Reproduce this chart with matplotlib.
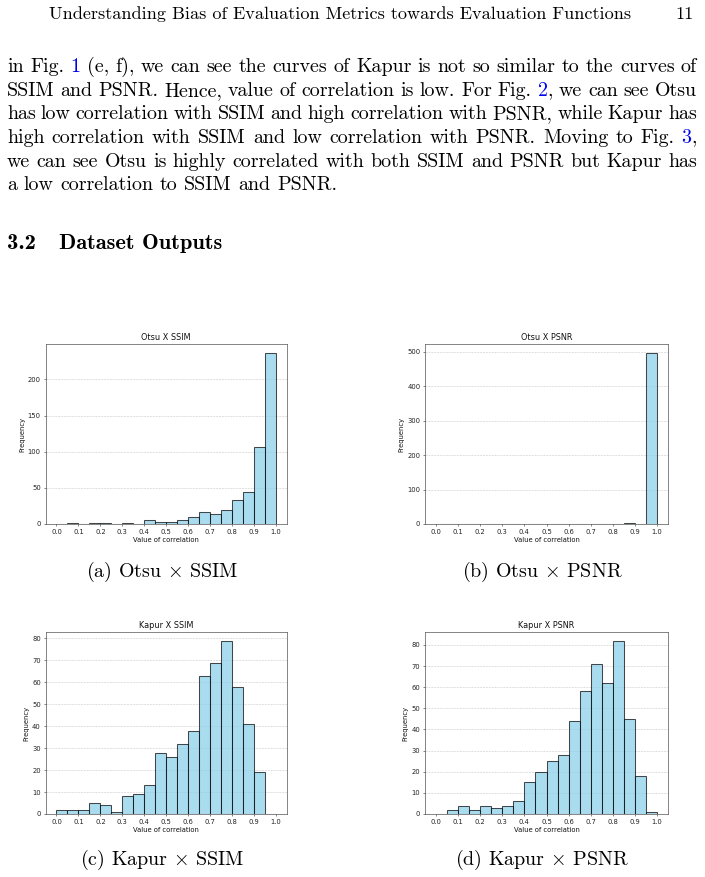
import numpy as np
import matplotlib
matplotlib.use("Agg")
import matplotlib.pyplot as plt
from matplotlib.ticker import MultipleLocator

# ---------------- data ----------------
bin_edges = np.round(np.arange(0, 1.0001, 0.05), 2)
xtick_vals = np.round(np.arange(0, 1.0001, 0.1), 1)

otsu_ssim = [0, 1, 0, 1, 1, 0, 1, 0, 5, 3, 3, 5, 9, 16, 14, 20, 33, 44, 107, 237]
otsu_psnr = [0, 0, 0, 0, 0, 0, 0, 0, 0, 0, 0, 0, 0, 0, 0, 0, 0, 2, 0, 498]
kapur_ssim = [2, 2, 2, 5, 4, 1, 8, 9, 13, 28, 26, 32, 38, 63, 69, 79, 58, 41, 19, 0]
kapur_psnr = [0, 2, 4, 2, 4, 3, 4, 6, 15, 20, 25, 28, 44, 58, 71, 62, 82, 45, 18, 1]

titles = ["Otsu X SSIM", "Otsu X PSNR", "Kapur X SSIM", "Kapur X PSNR"]
captions = [r"(a) Otsu $\times$ SSIM", r"(b) Otsu $\times$ PSNR",
            r"(c) Kapur $\times$ SSIM", r"(d) Kapur $\times$ PSNR"]
ytick_steps = [50, 100, 10, 10]

header = "Understanding Bias of Evaluation Metrics towards Evaluation Functions"
page_no = "11"
BLUE = "#0000ee"
body_lines = [
    [["in"], ["Fig."], [("1", BLUE)], ["(e,"], ["f),"], ["we"], ["can"], ["see"], ["the"], ["curves"], ["of"],
     ["Kapur"], ["is"], ["not"], ["so"], ["similar"], ["to"], ["the"], ["curves"], ["of"]],
    [["SSIM"], ["and"], ["PSNR."], ["Hence,"], ["value"], ["of"], ["correlation"], ["is"], ["low."], ["For"],
     ["Fig."], [("2", BLUE), ","], ["we"], ["can"], ["see"], ["Otsu"]],
    [["has"], ["low"], ["correlation"], ["with"], ["SSIM"], ["and"], ["high"], ["correlation"], ["with"],
     ["PSNR,"], ["while"], ["Kapur"], ["has"]],
    [["high"], ["correlation"], ["with"], ["SSIM"], ["and"], ["low"], ["correlation"], ["with"], ["PSNR."],
     ["Moving"], ["to"], ["Fig."], [("3", BLUE), ","]],
    [["we"], ["can"], ["see"], ["Otsu"], ["is"], ["highly"], ["correlated"], ["with"], ["both"], ["SSIM"],
     ["and"], ["PSNR"], ["but"], ["Kapur"], ["has"]],
    [["a"], ["low"], ["correlation"], ["to"], ["SSIM"], ["and"], ["PSNR."]],
]
section_num = "3.2"
section_title = "Dataset Outputs"

# ---------------- figure ----------------
W, H = 705, 877
fig = plt.figure(figsize=(W / 100, H / 100), dpi=100)
fig.patch.set_facecolor("white")
renderer = fig.canvas.get_renderer()

SERIF = "cmr10"
BODY_SIZE = 14.4


def fx(x):
    return x / W


def fy(y):
    return 1 - y / H


def put(x, y, s, **kw):
    kw.setdefault("fontfamily", SERIF)
    kw.setdefault("fontsize", BODY_SIZE)
    kw.setdefault("va", "baseline")
    return fig.text(fx(x), fy(y), s, **kw)


def width_of(t):
    return t.get_window_extent(renderer).width


def draw_line(words, y, x0=7, x1=697, justify=True):
    placed = []
    total = 0
    for tok in words:
        pieces = []
        for p in tok:
            if isinstance(p, tuple):
                s, c = p
            else:
                s, c = p, "black"
            t = put(0, y, s, color=c)
            w = width_of(t)
            pieces.append((t, w))
            total += w
        placed.append(pieces)
    n_gaps = len(words) - 1
    if justify and n_gaps > 0:
        gap = (x1 - x0 - total) / n_gaps
    else:
        gap = BODY_SIZE * 1.39 * 0.333
    x = x0
    for pieces in placed:
        for t, w in pieces:
            t.set_position((fx(x), fy(y)))
            x += w
        x += gap


# header
put(340, 19, header, fontsize=13.1, ha="center")
put(694, 19, page_no, fontsize=13.1, ha="right")

# body
base0 = 72
step = 23.7
for i, ln in enumerate(body_lines):
    draw_line(ln, base0 + i * step, justify=(i < len(body_lines) - 1))

# section heading
put(7, 249, section_num, fontfamily="cmb10", fontsize=16.2)
put(59, 249, section_title, fontfamily="cmb10", fontsize=16.2)

# ---------------- histograms ----------------
S = 0.488
axes_px = [
    (45.5, 344, 287, 524),
    (425, 344, 668, 524),
    (45.5, 632, 287, 814),
    (425, 632, 668, 814),
]
caption_pos = [(162, 577), (542, 577), (162, 865), (542, 865)]
series = [otsu_ssim, otsu_psnr, kapur_ssim, kapur_psnr]

for k in range(4):
    l, t, r, b = axes_px[k]
    ax = fig.add_axes([fx(l), fy(b), (r - l) / W, (b - t) / H])
    ax.bar(bin_edges[:-1], series[k], width=0.05, align="edge",
           color="skyblue", edgecolor="black", alpha=0.7, linewidth=0.75)
    ax.set_title(titles[k], fontsize=12 * S, pad=6 * S, color="#111111")
    ax.set_xlabel("Value of correlation", fontsize=10 * S, labelpad=4 * S, color="#111111")
    ax.set_ylabel("Frequency", fontsize=10 * S, labelpad=4 * S, color="#111111")
    ax.set_xticks(xtick_vals)
    ax.yaxis.set_major_locator(MultipleLocator(ytick_steps[k]))
    ax.tick_params(labelsize=10 * S, length=3.5 * S, width=0.8 * S, pad=3.5 * S,
                   colors="#222222")
    ax.grid(axis="y", linestyle="--", alpha=0.7, linewidth=0.8 * S)
    ax.set_axisbelow(True)
    for sp in ax.spines.values():
        sp.set_linewidth(0.8 * S * 1.3)
        sp.set_color("#555555")
    cx, cy = caption_pos[k]
    put(cx, cy, captions[k], ha="center", fontsize=BODY_SIZE,
        math_fontfamily="cm")

fig.savefig("out.png", dpi=100)
